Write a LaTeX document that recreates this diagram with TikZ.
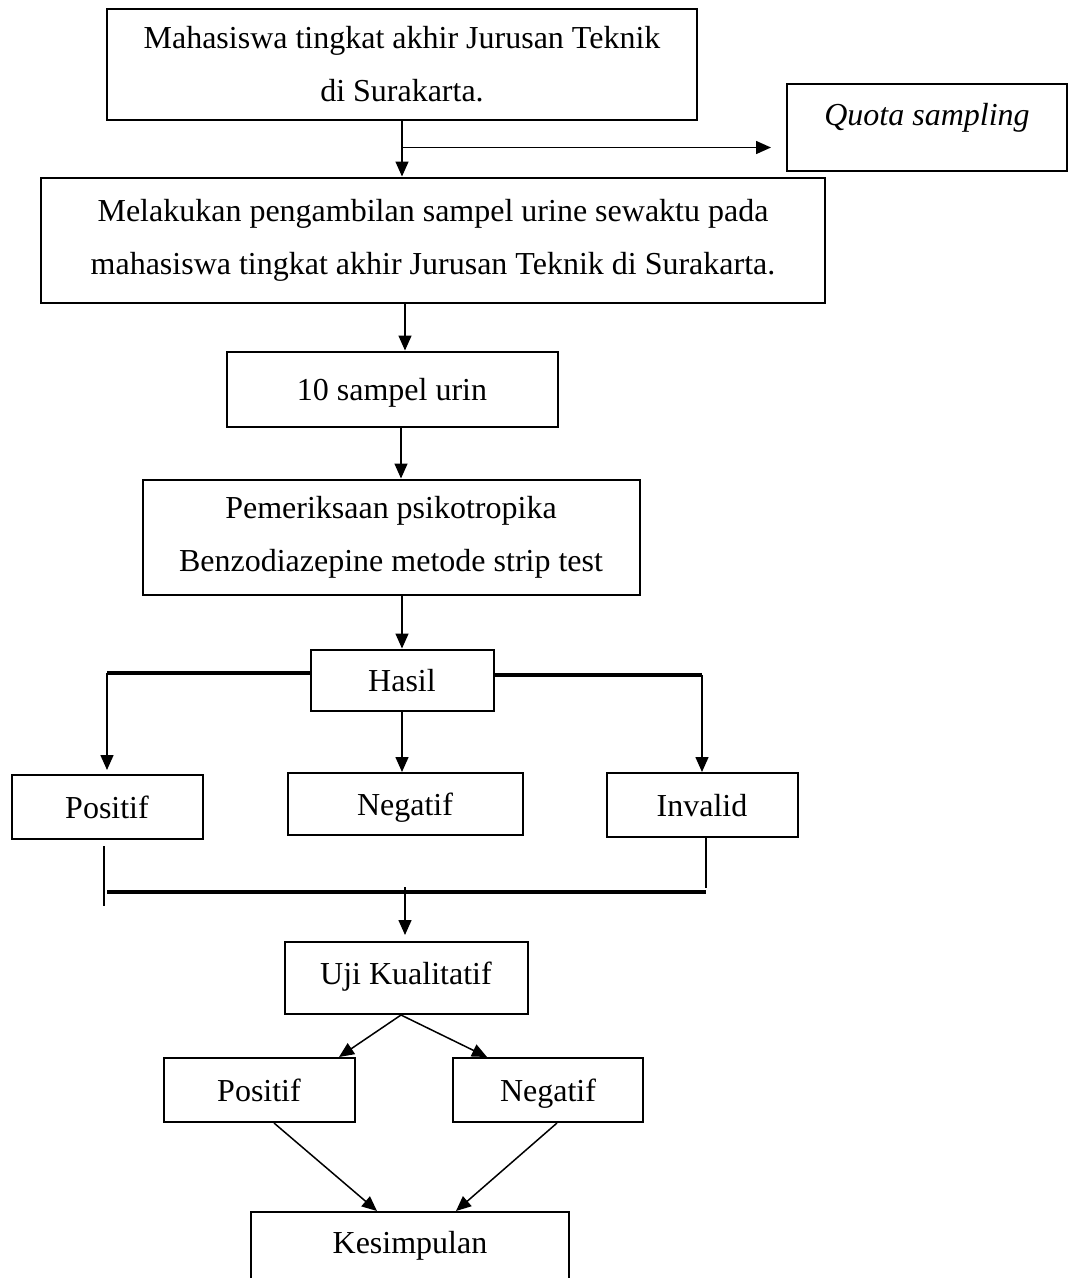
\documentclass[tikz,border=0pt]{standalone}
\usepackage{fontspec}
\setmainfont{Liberation Serif}
\usetikzlibrary{positioning,calc,arrows.meta}

\begin{document}
\begin{tikzpicture}[x=1pt,y=-1pt,
  kotak/.style={draw, line width=2pt, align=center, inner sep=0pt,
    font=\fontsize{32}{53}\selectfont},
  baris/.style={kotak, text height=26pt, text depth=4pt},
  panah/.style={-{Triangle[length=15pt,width=13pt]}, line width=1.5pt},
  garis/.style={line width=1.5pt},
  tebal/.style={line width=3.2pt},
]
\useasboundingbox (0,0) rectangle (1069,1278);

% kotak-kotak alur
\node[kotak, minimum width=590pt, minimum height=111pt] (mhs) at (402,64)
  {Mahasiswa tingkat akhir Jurusan Teknik\\di Surakarta.};
\node[kotak, minimum width=280pt, minimum height=87pt, text depth=25pt,
  font=\fontsize{32}{53}\selectfont\itshape] (quota) at (927,127) {Quota sampling};
\node[kotak, minimum width=784pt, minimum height=125pt] (ambil) at (433,240)
  {Melakukan pengambilan sampel urine sewaktu pada\\mahasiswa tingkat akhir Jurusan Teknik di Surakarta.};
\node[baris, minimum width=331pt, minimum height=75pt] (sampel) at (392,389) {10 sampel urin};
\node[kotak, minimum width=497pt, minimum height=115pt] (periksa) at (391,537)
  {Pemeriksaan psikotropika\\Benzodiazepine metode strip test};
\node[baris, minimum width=183pt, minimum height=61pt] (hasil) at (402,680) {Hasil};
\node[baris, minimum width=191pt, minimum height=64pt] (pos) at (107,807) {Positif};
\node[baris, minimum width=235pt, minimum height=62pt] (neg) at (405,804) {Negatif};
\node[baris, minimum width=191pt, minimum height=64pt] (inv) at (702,805) {Invalid};
\node[baris, minimum width=243pt, minimum height=72pt, text depth=14pt] (uji) at (406,978) {Uji Kualitatif};
\node[baris, minimum width=191pt, minimum height=64pt] (ujipos) at (259,1090) {Positif};
\node[baris, minimum width=190pt, minimum height=64pt] (ujineg) at (548,1090) {Negatif};
\node[baris, minimum width=318pt, minimum height=74pt, text depth=18pt] (kes) at (410,1249) {Kesimpulan};

% panah atas
\coordinate (cabang) at ($(mhs.south)+(0,27)$);
\draw[panah] (mhs.south) -- (mhs.south |- ambil.north);
\draw[panah, shorten >=15pt] (cabang) -- (cabang -| quota.west);
\draw[panah] ([xshift=13pt]sampel.north |- ambil.south) -- ([xshift=13pt]sampel.north);
\draw[panah] ([xshift=9pt]sampel.south) -- ([xshift=9pt]sampel.south |- periksa.north);
\draw[panah] (hasil.north |- periksa.south) -- (hasil.north);

% cabang hasil
\coordinate (kiri) at ([yshift=7pt]pos.north |- hasil.west);
\coordinate (kanan) at ([yshift=5pt]inv.north |- hasil.east);
\draw[tebal] ([yshift=7pt]hasil.west) -- (kiri);
\draw[panah, shorten >=4pt] (kiri) -- (pos.north);
\draw[tebal] ([yshift=5pt]hasil.east) -- (kanan);
\draw[panah] (kanan) -- (inv.north);
\draw[panah] (hasil.south) -- (hasil.south |- neg.north);

% gabungan ke uji
\coordinate (gabung) at (405,892);
\draw[garis] ([xshift=-3pt,yshift=-6pt]pos.south) -- ++(0,60);
\draw[garis] ([xshift=4pt]inv.south) -- ++(0,50);
\draw[tebal] (pos.south |- gabung) -- ([xshift=4pt]inv.south |- gabung);
\draw[panah, shorten >=6pt] ([yshift=5pt]gabung) -- (gabung |- uji.north);

% uji kualitatif
\draw[panah] ([xshift=-5pt]uji.south) -- ([xshift=80pt]ujipos.north);
\draw[panah] ([xshift=-5pt]uji.south) -- ([xshift=-61pt]ujineg.north);
\draw[panah] ([xshift=15pt]ujipos.south) -- ([xshift=-33pt]kes.north);
\draw[panah] ([xshift=9pt]ujineg.south) -- ([xshift=46pt]kes.north);
\end{tikzpicture}
\end{document}
